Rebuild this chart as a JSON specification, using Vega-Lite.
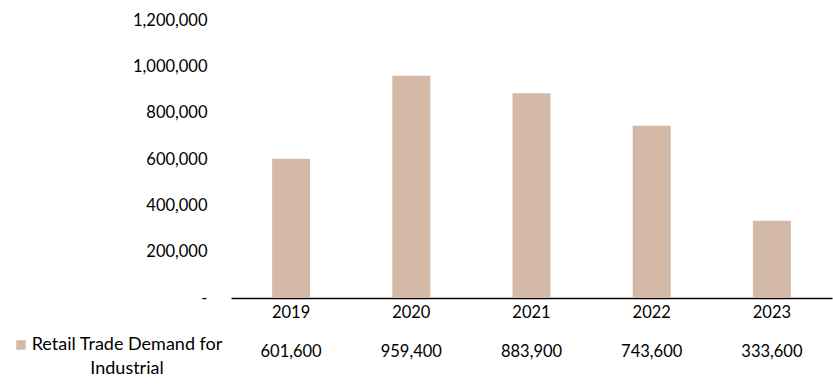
{
  "$schema": "https://vega.github.io/schema/vega-lite/v6.json",
  "width": 601,
  "height": 278,
  "autosize": {"type": "none"},
  "padding": {"left": 231, "top": 20, "right": 1, "bottom": 93},
  "background": "white",
  "config": {"view": {"stroke": null}, "font": "Lato", "style": {"guide-label": {"lineHeight": 24}}},
  "data": {
    "values": [
      {"year": "2019|601,600", "value": 601600, "series": "Retail Trade Demand for Industrial"},
      {"year": "2020|959,400", "value": 959400, "series": "Retail Trade Demand for Industrial"},
      {"year": "2021|883,900", "value": 883900, "series": "Retail Trade Demand for Industrial"},
      {"year": "2022|743,600", "value": 743600, "series": "Retail Trade Demand for Industrial"},
      {"year": "2023|333,600", "value": 333600, "series": "Retail Trade Demand for Industrial"}
    ]
  },
  "mark": {"type": "bar"},
  "encoding": {
    "x": {
      "field": "year",
      "type": "nominal",
      "sort": null,
      "scale": {"paddingInner": 0.684, "paddingOuter": 0.342},
      "axis": {
        "title": null,
        "labelAngle": 0,
        "labelExpr": "split(datum.value, '|')",
        "labelFontSize": 16.5,
        "labelColor": "#000000",
        "labelLineHeight": 39,
        "labelBaseline": "top",
        "labelPadding": 6,
        "ticks": false,
        "domainColor": "#000000",
        "domainWidth": 1.5,
        "grid": false
      }
    },
    "y": {
      "field": "value",
      "type": "quantitative",
      "scale": {"domain": [0, 1200000], "nice": false},
      "axis": {
        "title": null,
        "values": [0, 200000, 400000, 600000, 800000, 1000000, 1200000],
        "labelExpr": "datum.value == 0 ? '-' : format(datum.value, ',')",
        "labelFontSize": 16.5,
        "labelColor": "#000000",
        "labelPadding": 24,
        "ticks": false,
        "domain": false,
        "grid": false
      }
    },
    "color": {
      "field": "series",
      "type": "nominal",
      "scale": {"range": ["#D3B9A6"]},
      "legend": {
        "title": null,
        "orient": "none",
        "legendX": -219,
        "legendY": 316,
        "symbolType": "square",
        "symbolSize": 90,
        "symbolStrokeWidth": 0,
        "labelFontSize": 18,
        "labelColor": "#000000",
        "labelAlign": "center",
        "labelOffset": 97,
        "labelBaseline": "middle",
        "labelLimit": 400,
        "labelExpr": "['Retail Trade Demand for', 'Industrial']"
      }
    }
  }
}
